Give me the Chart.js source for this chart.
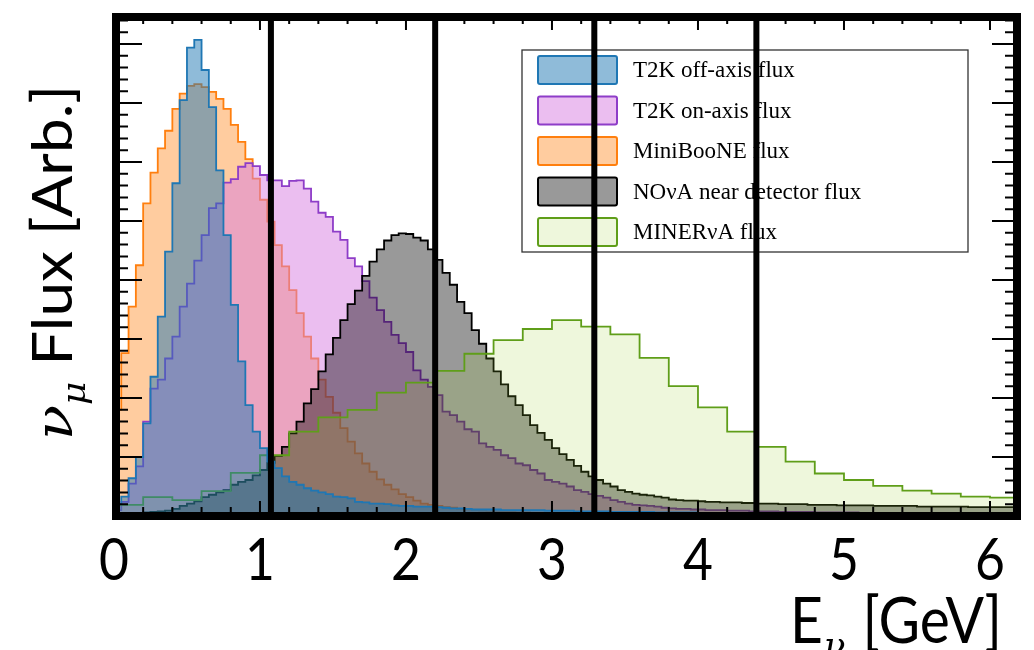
<!DOCTYPE html>
<html>
<head>
<meta charset="utf-8">
<script src="https://cdn.jsdelivr.net/npm/chart.js@4.4.0/dist/chart.umd.min.js"></script>
<style>
html, body { margin: 0; padding: 0; background: #fff; }
#wrap { width: 1034px; height: 650px; }
</style>
</head>
<body>
<div id="wrap"><canvas id="flux" width="1034" height="650"></canvas></div>
<script>
// bin widths in GeV
const fineBinWidth = 0.05
const minervaBinWidth = 0.2

// T2K off-axis, 0.05 GeV bins from 0
const t2kOffAxis = [
    0.20, 0.33, 0.64, 1.00, 1.57, 2.36, 3.38, 4.48, 5.64, 7.05,
    7.94, 8.07, 7.56, 6.93, 5.86, 4.76, 3.58, 2.62, 1.88, 1.43,
    1.15, 0.92, 0.81, 0.67, 0.58, 0.53, 0.47, 0.43, 0.40, 0.37,
    0.33, 0.32, 0.30, 0.24, 0.23, 0.21, 0.21, 0.20, 0.18, 0.17,
    0.17, 0.16, 0.16, 0.16, 0.15, 0.14, 0.13, 0.13, 0.12, 0.11,
    0.11, 0.11, 0.11, 0.10, 0.10, 0.10, 0.10, 0.10, 0.10, 0.09,
    0.09, 0.09, 0.09, 0.08, 0.08, 0.08, 0.08, 0.08, 0.07, 0.07,
    0.07, 0.07, 0.07, 0.07, 0.06, 0.06, 0.06, 0.06, 0.06, 0.06,
    0.05, 0.05, 0.05, 0.05, 0.05, 0.05, 0.05, 0.05, 0.05, 0.04,
    0.04, 0.04, 0.04, 0.04, 0.04, 0.04, 0.04, 0.04, 0.04, 0.04,
    0.04, 0.04, 0.04, 0.04, 0.04, 0.03, 0.03, 0.03, 0.03, 0.03,
    0.03, 0.03, 0.03, 0.03, 0.03, 0.03, 0.03, 0.03, 0.03, 0.03,
    0.03, 0.03, 0.03, 0.03
]

// T2K on-axis
const t2kOnAxis = [
    0.10, 0.24, 0.55, 0.84, 1.60, 2.16, 2.31, 2.67, 3.04, 3.55,
    3.94, 4.33, 4.76, 5.22, 5.30, 5.65, 5.71, 5.92, 5.98, 5.93,
    5.78, 5.69, 5.69, 5.59, 5.68, 5.69, 5.55, 5.33, 5.14, 5.07,
    4.82, 4.68, 4.37, 4.23, 3.98, 3.70, 3.49, 3.29, 3.07, 2.93,
    2.78, 2.47, 2.31, 2.19, 2.05, 1.77, 1.71, 1.60, 1.47, 1.43,
    1.23, 1.17, 1.12, 1.03, 0.98, 0.89, 0.86, 0.78, 0.72, 0.61,
    0.58, 0.55, 0.50, 0.44, 0.41, 0.37, 0.34, 0.31, 0.27, 0.24,
    0.21, 0.19, 0.18, 0.17, 0.16, 0.14, 0.13, 0.12, 0.12, 0.11,
    0.11, 0.10, 0.10, 0.10, 0.09, 0.09, 0.09, 0.08, 0.08, 0.08,
    0.08, 0.07, 0.07, 0.07, 0.07, 0.07, 0.06, 0.06, 0.06, 0.06,
    0.06, 0.06, 0.05, 0.05, 0.05, 0.05, 0.05, 0.05, 0.05, 0.05,
    0.05, 0.04, 0.04, 0.04, 0.04, 0.04, 0.04, 0.04, 0.04, 0.04,
    0.04, 0.04, 0.04, 0.04
]

// MiniBooNE
const miniBooNE = [
    1.80, 2.76, 3.55, 4.25, 5.30, 5.82, 6.23, 6.53, 6.90, 7.16,
    7.29, 7.32, 7.27, 7.19, 7.07, 6.90, 6.63, 6.34, 6.05, 5.72,
    5.36, 4.99, 4.59, 4.23, 3.83, 3.44, 3.04, 2.67, 2.31, 2.02,
    1.75, 1.49, 1.26, 1.06, 0.89, 0.75, 0.62, 0.53, 0.45, 0.37,
    0.32, 0.26, 0.21, 0.19, 0.17, 0.15, 0.14, 0.12, 0.11, 0.10,
    0.09, 0.08, 0.08, 0.07, 0.07, 0.06, 0.06, 0.05, 0.05, 0.05,
    0.04, 0.04, 0.04, 0.04, 0.03, 0.03, 0.03, 0.03, 0.03, 0.03,
    0.03, 0.03, 0.02, 0.02, 0.02, 0.02, 0.02, 0.02, 0.02, 0.02,
    0.02, 0.02, 0.02, 0.02, 0.02, 0.02, 0.02, 0.02, 0.02, 0.02,
    0.01, 0.01, 0.01, 0.01, 0.01, 0.01, 0.01, 0.01, 0.01, 0.01,
    0.01, 0.01, 0.01, 0.01, 0.01, 0.01, 0.01, 0.01, 0.01, 0.01,
    0.01, 0.01, 0.01, 0.01, 0.01, 0.01, 0.01, 0.01, 0.01, 0.01,
    0.01, 0.01, 0.01, 0.01
]

// NOvA near detector
const novaND = [
    0.02, 0.03, 0.04, 0.05, 0.06, 0.07, 0.08, 0.09, 0.12, 0.17,
    0.21, 0.25, 0.32, 0.36, 0.40, 0.44, 0.53, 0.58, 0.61, 0.69,
    0.78, 0.90, 1.02, 1.17, 1.40, 1.60, 1.91, 2.15, 2.45, 2.74,
    3.02, 3.32, 3.59, 3.82, 4.07, 4.31, 4.52, 4.67, 4.76, 4.79,
    4.78, 4.72, 4.67, 4.52, 4.34, 4.12, 3.92, 3.63, 3.44, 3.15,
    2.92, 2.67, 2.45, 2.23, 2.03, 1.88, 1.71, 1.54, 1.41, 1.29,
    1.15, 1.05, 0.95, 0.85, 0.75, 0.67, 0.61, 0.55, 0.50, 0.44,
    0.41, 0.38, 0.36, 0.35, 0.33, 0.31, 0.28, 0.27, 0.26, 0.26,
    0.25, 0.24, 0.24, 0.23, 0.23, 0.23, 0.22, 0.22, 0.21, 0.21,
    0.21, 0.20, 0.20, 0.20, 0.20, 0.19, 0.19, 0.19, 0.19, 0.18,
    0.18, 0.18, 0.18, 0.18, 0.17, 0.17, 0.17, 0.17, 0.17, 0.17,
    0.16, 0.16, 0.16, 0.16, 0.16, 0.16, 0.16, 0.15, 0.15, 0.15,
    0.15, 0.15, 0.15, 0.15
]

// MINERvA, 0.2 GeV bins
const minerva = [
    0.19, 0.32, 0.27, 0.42, 0.73, 1.03, 1.43, 1.67, 1.80, 2.09,
    2.26, 2.46, 2.75, 2.98, 3.17, 3.32, 3.21, 3.08, 2.68, 2.20,
    1.84, 1.43, 1.17, 0.92, 0.72, 0.61, 0.51, 0.43, 0.38, 0.33,
    0.31
]

const seriesNames = ["T2K off-axis flux", "T2K on-axis flux", "MiniBooNE flux", "NO\u03bdA near detector flux", "MINER\u03bdA flux"]
const xTickValues = [0, 1, 2, 3, 4, 5, 6]
const xTickLabels = ["0", "1", "2", "3", "4", "5", "6"]
const cutLines = [1.075, 2.20, 3.29, 4.40]

function histPoints(values, width) {
    var pts = []
    for (var i = 0; i < values.length; i++) {
        pts.push({x: i * width, y: values[i]})
    }
    pts.push({x: values.length * width, y: values[values.length - 1]})
    return pts
}

function histSet(label, values, width, edge, fill, order) {
    return {
        label: label,
        data: histPoints(values, width),
        stepped: true,
        fill: "origin",
        borderColor: edge,
        backgroundColor: fill,
        borderWidth: 1.8,
        pointRadius: 0,
        order: order
    }
}

// order: lower number is drawn on top (blue over everything, orange at the bottom)
const datasets = [
    histSet(seriesNames[0], t2kOffAxis, fineBinWidth, "#1f77b4", "rgba(31,119,180,0.5)", 0),
    histSet(seriesNames[1], t2kOnAxis, fineBinWidth, "#8e3dc8", "rgba(215,125,225,0.5)", 3),
    histSet(seriesNames[2], miniBooNE, fineBinWidth, "#ff7f0e", "rgba(255,127,14,0.4)", 4),
    histSet(seriesNames[3], novaND, fineBinWidth, "#000000", "rgba(0,0,0,0.4)", 2),
    histSet(seriesNames[4], minerva, minervaBinWidth, "#5f9e19", "rgba(154,205,50,0.17)", 1)
]

// squeeze text a bit sideways like the original
const squeeze = 0.89

const decorPlugin = {
    id: "decor",
    afterDatasetsDraw(chart) {
        const ctx = chart.ctx
        const a = chart.chartArea
        const xs = chart.scales.x
        const ys = chart.scales.y
        ctx.save()

        // inward ticks on all four sides
        ctx.strokeStyle = "#000"
        ctx.lineWidth = 2
        ctx.beginPath()
        for (var i = 0; i * 0.2 <= ys.max; i++) {
            var py = ys.getPixelForValue(i * 0.2)
            var major = (i % 5 == 0)
            ctx.moveTo(a.left, py)
            ctx.lineTo(a.left + (major ? 26 : 12), py)
            ctx.moveTo(a.right, py)
            ctx.lineTo(a.right - (major ? 25 : 12), py)
        }
        for (var j = 1; j * 0.2 <= xs.max; j++) {
            var px = xs.getPixelForValue(j * 0.2)
            var xmajor = (j % 5 == 0)
            ctx.moveTo(px, a.top)
            ctx.lineTo(px, a.top + (xmajor ? 13 : 7))
            ctx.moveTo(px, a.bottom)
            ctx.lineTo(px, a.bottom - (xmajor ? 15 : 9))
        }
        ctx.stroke()

        // legend
        const lx = 522, ly = 50, lw = 446, lh = 202
        ctx.fillStyle = "rgba(255,255,255,0.9)"
        ctx.fillRect(lx, ly, lw, lh)
        ctx.strokeStyle = "#333"
        ctx.lineWidth = 1.3
        ctx.strokeRect(lx, ly, lw, lh)
        ctx.font = "23px 'Liberation Serif'"
        ctx.textBaseline = "middle"
        ctx.textAlign = "left"
        for (var k = 0; k < datasets.length; k++) {
            var cy = 70 + k * 40.5
            ctx.beginPath()
            ctx.roundRect(538, cy - 14, 79, 28, 2)
            ctx.fillStyle = datasets[k].backgroundColor
            ctx.fill()
            ctx.strokeStyle = datasets[k].borderColor
            ctx.lineWidth = 2
            ctx.stroke()
            ctx.fillStyle = "#000"
            ctx.fillText(seriesNames[k], 633, cy + 1)
        }

        // thick vertical cut lines
        ctx.strokeStyle = "#000"
        ctx.lineWidth = 6
        ctx.beginPath()
        cutLines.forEach(function (v) {
            var px = xs.getPixelForValue(v)
            ctx.moveTo(px, a.top)
            ctx.lineTo(px, a.bottom)
        })
        ctx.stroke()

        // frame
        ctx.lineWidth = 8
        ctx.strokeRect(a.left, a.top, a.right - a.left, a.bottom - a.top)

        // tick labels
        ctx.fillStyle = "#000"
        ctx.font = "58px Lato"
        ctx.textAlign = "center"
        ctx.textBaseline = "alphabetic"
        xTickValues.forEach(function (v, n) {
            ctx.save()
            ctx.translate(xs.getPixelForValue(v), 580)
            ctx.scale(squeeze, 1)
            ctx.fillText(xTickLabels[n], 0, 0)
            ctx.restore()
        })

        // x title: E_nu [GeV]
        ctx.save()
        ctx.translate(790, 643)
        ctx.scale(squeeze, 1)
        ctx.textAlign = "left"
        ctx.font = "64px Lato"
        ctx.fillText("E", 0, 0)
        var ew = ctx.measureText("E").width
        ctx.font = "italic 40px 'DejaVu Serif'"
        ctx.fillText("\u03bd", ew + 1, 16)
        ctx.restore()
        ctx.save()
        ctx.translate(1002, 643)
        ctx.scale(squeeze, 1)
        ctx.textAlign = "right"
        ctx.font = "64px Lato"
        ctx.fillText("[GeV]", 0, 0)
        ctx.restore()

        // y title: nu_mu Flux [Arb.]
        ctx.save()
        ctx.font = "italic 58px 'DejaVu Serif'"
        var nuW = ctx.measureText("\u03bd").width
        ctx.font = "italic 36px 'DejaVu Serif'"
        var muW = ctx.measureText("\u03bc").width
        ctx.font = "62px Lato"
        var restW = ctx.measureText(" Flux [Arb.]").width
        var total = nuW + muW + restW
        var midY = (a.top + a.bottom) / 2 - 4
        ctx.translate(72, midY)
        ctx.scale(squeeze, 1)
        ctx.rotate(-Math.PI / 2)
        ctx.textAlign = "left"
        var x0 = -total / 2
        ctx.font = "italic 58px 'DejaVu Serif'"
        ctx.fillText("\u03bd", x0, 0)
        ctx.font = "italic 36px 'DejaVu Serif'"
        ctx.fillText("\u03bc", x0 + nuW, 15)
        ctx.font = "62px Lato"
        ctx.fillText(" Flux [Arb.]", x0 + nuW + muW, 0)
        ctx.restore()

        ctx.restore()
    }
}

new Chart(document.getElementById("flux"), {
    type: "line",
    data: {datasets: datasets},
    options: {
        responsive: false,
        animation: false,
        devicePixelRatio: 1,
        events: [],
        layout: {padding: {left: 116, right: 17, top: 17, bottom: 134}},
        plugins: {
            legend: {display: false},
            tooltip: {enabled: false}
        },
        scales: {
            x: {type: "linear", min: 0.014, max: 6.185, display: false},
            y: {type: "linear", min: 0, max: 8.458, display: false}
        }
    },
    plugins: [decorPlugin]
})
</script>
</body>
</html>
